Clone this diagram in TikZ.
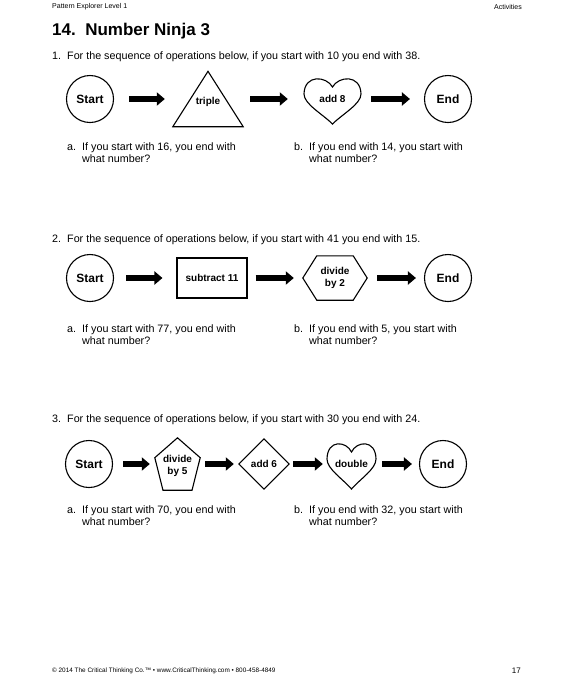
\documentclass[tikz,border=0pt]{standalone}
\usepackage{fontspec}
\setmainfont{Liberation Sans}
\usetikzlibrary{arrows.meta,calc}

\tikzset{
	endpt/.style={circle, draw, line width=1.1pt, minimum size=47pt, inner sep=0pt, font=\fontsize{12}{14}\selectfont\bfseries},
	opbox/.style={inner sep=0pt, align=center, font=\fontsize{10}{11.5}\selectfont\bfseries},
	outline/.style={draw, line width=1.1pt, line join=miter},
	fatarrow/.style={line width=6pt, -{Triangle[length=8pt,width=13pt]}},
	body/.style={anchor=west, inner sep=0pt, font=\fontsize{10.75}{12}\selectfont},
	tiny/.style={inner sep=0pt, font=\fontsize{7}{8}\selectfont}
}
% heart around a node, local units in pt
\newcommand\heartline[2][]{\draw[outline, shift={(#2)}, #1] (0,-12) .. controls (-6,-23) and (-28,-25) .. (-28.5,-5) .. controls (-28.5,5) and (-10,15) .. (0,25) .. controls (10,15) and (28.5,5) .. (28.5,-5) .. controls (28,-25) and (6,-23) .. (0,-12) -- cycle;}
% text set lower than the node centre
\newcommand\lowtext[2]{\raisebox{-#1}[0pt][0pt]{\begin{tabular}{@{}c@{}}#2\end{tabular}}}

\begin{document}
\begin{tikzpicture}[x=1pt, y=-1pt]
		\fill[white] (0,0) rectangle (576,681);
		\useasboundingbox (0,0) rectangle (576,681);
		% header
		\node(hdleft) at (52,7)[tiny, anchor=west]{Pattern Explorer Level 1};
		\node(hdright) at (522,7)[tiny, anchor=east]{Activities};
		\node(title) at (52,31)[anchor=west, inner sep=0pt, font=\fontsize{17}{19}\selectfont\bfseries]{14.\ \ Number Ninja 3};
		% 1
		\node(q1) at (52,57)[body]{\makebox[15pt][l]{1.}For the sequence of operations below, if you start with 10 you end with 38.};
		\node(start1) at (90,99)[endpt]{Start};
		\node(triple) at (208,99)[opbox, minimum width=70pt, minimum height=55pt]{\lowtext{5.5pt}{triple}};
		\node(addeight) at (332.5,99)[opbox, minimum width=57pt, minimum height=45pt]{add 8};
		\node(end1) at (448,99)[endpt]{End};
		\draw[outline] (triple.north) -- (triple.south east) -- (triple.south west) -- cycle;
		\heartline{addeight}
		\draw[fatarrow, shorten <=15pt, shorten >=8pt] (start1) -- (triple);
		\draw[fatarrow, shorten <=7pt, shorten >=16pt] (triple) -- (addeight);
		\draw[fatarrow, shorten <=10pt, shorten >=14pt] (addeight) -- (end1);
		\node(q1a) at (67,154)[body]{\begin{tabular}{@{}p{15pt}@{}l@{}}a. & If you start with 16, you end with\\ & what number?\end{tabular}};
		\node(q1b) at (294,154)[body]{\begin{tabular}{@{}p{15pt}@{}l@{}}b. & If you end with 14, you start with\\ & what number?\end{tabular}};
		% 2
		\node(q2) at (52,240)[body]{\makebox[15pt][l]{2.}For the sequence of operations below, if you start with 41 you end with 15.};
		\node(start2) at (90,278)[endpt]{Start};
		\node(subtract) at (212,278)[opbox, outline, minimum width=70pt, minimum height=40pt]{subtract 11};
		\node(divtwo) at (335,278)[opbox, minimum width=64pt, minimum height=44pt]{divide\\by 2};
		\node(end2) at (448,278)[endpt]{End};
		\draw[outline] ([xshift=14pt]divtwo.north west) -- ([xshift=-14pt]divtwo.north east) -- (divtwo.east) -- ([xshift=-14pt]divtwo.south east) -- ([xshift=14pt]divtwo.south west) -- (divtwo.west) -- cycle;
		\draw[fatarrow, shorten <=12pt, shorten >=14pt] (start2) -- (subtract);
		\draw[fatarrow, shorten <=8pt, shorten >=9pt] (subtract) -- (divtwo);
		\draw[fatarrow, shorten <=10pt, shorten >=8pt] (divtwo) -- (end2);
		\node(q2a) at (67,336)[body]{\begin{tabular}{@{}p{15pt}@{}l@{}}a. & If you start with 77, you end with\\ & what number?\end{tabular}};
		\node(q2b) at (294,336)[body]{\begin{tabular}{@{}p{15pt}@{}l@{}}b. & If you end with 5, you start with\\ & what number?\end{tabular}};
		% 3
		\node(q3) at (52,420)[body]{\makebox[15pt][l]{3.}For the sequence of operations below, if you start with 30 you end with 24.};
		\node(start3) at (89,464)[endpt]{Start};
		\node(divfive) at (177.5,464)[opbox, minimum width=45pt, minimum height=52pt]{\lowtext{4.5pt}{divide\\by 5}};
		\node(addsix) at (264,464)[opbox, minimum width=50pt, minimum height=50pt]{add 6};
		\node(double) at (351.5,464)[opbox, minimum width=49pt, minimum height=45pt]{double};
		\node(end3) at (443,464)[endpt]{End};
		\draw[outline] (divfive.north) -- ($(divfive.north east)!0.38!(divfive.south east)$) -- ($(divfive.south east)!0.18!(divfive.south west)$) -- ($(divfive.south west)!0.18!(divfive.south east)$) -- ($(divfive.north west)!0.38!(divfive.south west)$) -- cycle;
		\draw[outline] (addsix.north) -- (addsix.east) -- (addsix.south) -- (addsix.west) -- cycle;
		\heartline[xscale=0.86]{double}
		\draw[fatarrow, shorten <=10pt, shorten >=5pt] (start3) -- (divfive);
		\draw[fatarrow, shorten <=5pt, shorten >=5pt] (divfive) -- (addsix);
		\draw[fatarrow, shorten <=4pt, shorten >=4pt] (addsix) -- (double);
		\draw[fatarrow, shorten <=6pt, shorten >=7pt] (double) -- (end3);
		\node(q3a) at (67,517)[body]{\begin{tabular}{@{}p{15pt}@{}l@{}}a. & If you start with 70, you end with\\ & what number?\end{tabular}};
		\node(q3b) at (294,517)[body]{\begin{tabular}{@{}p{15pt}@{}l@{}}b. & If you end with 32, you start with\\ & what number?\end{tabular}};
		% footer
		\node(footer) at (52,671)[inner sep=0pt, anchor=west, font=\fontsize{6.4}{8}\selectfont]{© 2014 The Critical Thinking Co.™ • www.CriticalThinking.com • 800-458-4849};
		\node(pagenum) at (521,671)[inner sep=0pt, anchor=east, font=\fontsize{8}{9}\selectfont]{17};
	\end{tikzpicture}
\end{document}
